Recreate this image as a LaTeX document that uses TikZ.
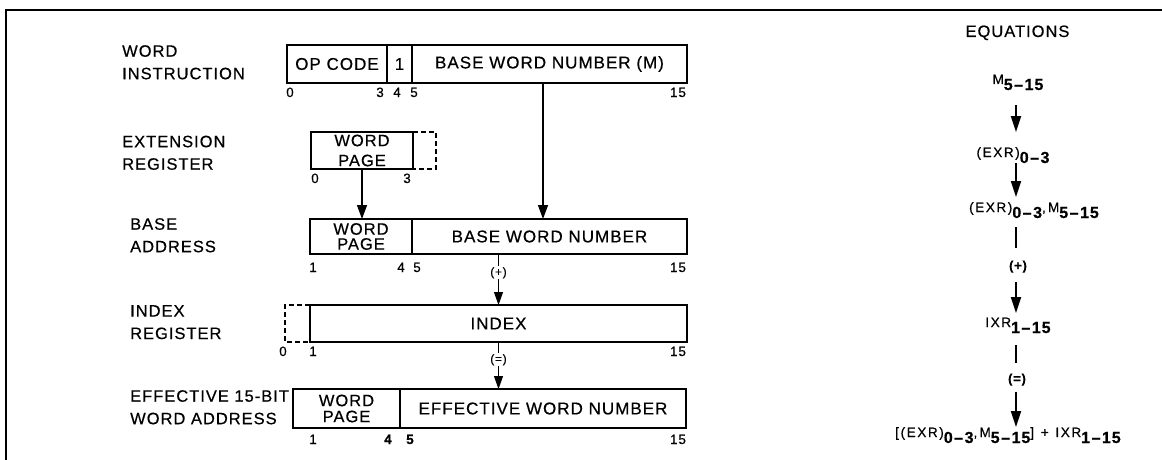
\documentclass[tikz,border=0pt]{standalone}
\usepackage{fontspec}
\setmainfont{Liberation Sans}[LetterSpace=6,FakeBold=0.5]
\newfontfamily\opfont{Liberation Sans}[LetterSpace=12,FakeBold=0.5]
\usetikzlibrary{arrows.meta}

\newcommand\lblfont{\fontsize{16.5}{22.5}\selectfont}
\newcommand\boxfont{\fontsize{17}{18}\selectfont}
\newcommand\bitfont{\fontsize{13.5}{14}\selectfont}
% raised operand and bold bit range of the equations
\newcommand\eqop[1]{\raisebox{6pt}{\opfont\fontsize{13.5}{13.5}\selectfont #1}}
\newcommand\eqsub[1]{{\fontsize{16}{16}\selectfont\bfseries #1}}
\newcommand\rng[2]{\eqsub{#1\kern1.5pt–\kern1.5pt#2}}

\begin{document}
\begin{tikzpicture}[x=1pt,y=-1pt,
  field/.style={draw, line width=1.2pt, inner sep=0pt, outer sep=0pt, anchor=north west, align=center, font=\boxfont},
  ghost/.style={inner sep=0pt, outer sep=0pt, anchor=north west},
  pagefont/.style={font={\fontsize{16.5}{#1}\selectfont}},
  lbl/.style={inner sep=0pt, anchor=north west, align=left, font=\lblfont},
  bit/.style={inner sep=0pt, anchor=base, font=\bitfont},
  darr/.style={line width=1.3pt, -{Triangle[width=10pt,length=14pt]}},
  dlink/.style={line width=0.9pt, -{Triangle[width=9pt,length=13pt]}},
  opn/.style={font={\fontsize{12}{12}\selectfont}, fill=white, inner sep=1pt},
  dashbox/.style={line width=1.2pt, dash pattern=on 5pt off 3pt},
  eqn/.style={inner sep=0pt, outer sep=0pt, anchor=base, text height=13pt, text depth=0pt},
  eqsym/.style={inner sep=0pt, outer sep=0pt, anchor=base, text height=10pt, text depth=3pt, font={\fontsize{13}{13}\selectfont\bfseries}},
  earr/.style={line width=2pt, -{Triangle[width=10pt,length=16pt]}},
  eline/.style={line width=2pt},
]
\useasboundingbox (0,0) rectangle (1162,460);

% frame
\draw[line width=2.4pt] (6,460) -- (6,10) -- (1162,10);

% row labels
\node[lbl] (lwi) at (122,45) {WORD\\INSTRUCTION};
\node[lbl] (lex) at (122,135.5) {EXTENSION\\REGISTER};
\node[lbl] (lba) at (130,218) {BASE\\ADDRESS};
\node[lbl] (lix) at (130,305) {INDEX\\REGISTER};
\node[lbl] (lef) at (130,390) {EFFECTIVE 15-BIT\\WORD ADDRESS};

% word instruction
\node[field, minimum width=100pt, minimum height=38pt] (wiop) at (287,45) {OP CODE};
\node[field, minimum width=25pt, minimum height=38pt] (wione) at (387,45) {1};
\node[field, minimum width=275pt, minimum height=38pt] (wibwn) at (412,45) {BASE WORD NUMBER (M)};
\node[bit] at (290,97) {0};
\node[bit] at (380,97) {3};
\node[bit] at (397,97) {4};
\node[bit] at (414,97) {5};
\node[bit] at (678,97) {15};

% extension register
\node[field, pagefont=20, minimum width=102pt, minimum height=37pt] (expage) at (311,132) {WORD\\PAGE};
\node[ghost, minimum width=23pt, minimum height=37pt] (exdash) at (413,132) {};
\draw[dashbox] (exdash.north west) -- (exdash.north east) -- (exdash.south east) -- (exdash.south west);
\node[bit] at (315,183) {0};
\node[bit] at (407,183) {3};

% base address
\node[field, pagefont=15, minimum width=102pt, minimum height=35pt] (bapage) at (310,219) {WORD\\PAGE};
\node[field, minimum width=275pt, minimum height=35pt] (babwn) at (412,219) {BASE WORD NUMBER};
\node[bit] at (313,272) {1};
\node[bit] at (401,272) {4};
\node[bit] at (417,272) {5};
\node[bit] at (678,272) {15};

% index register
\node[ghost, minimum width=25pt, minimum height=37pt] (ixdash) at (285,305) {};
\draw[dashbox] (ixdash.north east) -- (ixdash.north west) -- (ixdash.south west) -- (ixdash.south east);
\node[field, minimum width=377pt, minimum height=37pt] (ixidx) at (310,305) {INDEX};
\node[bit] at (283,356) {0};
\node[bit] at (313,356) {1};
\node[bit] at (678,356) {15};

% effective word address
\node[field, pagefont=16, minimum width=107pt, minimum height=39pt] (efpage) at (293,389) {WORD\\PAGE};
\node[field, minimum width=286pt, minimum height=39pt] (efewn) at (400,389) {EFFECTIVE WORD NUMBER};
\node[bit] at (313,444) {1};
\node[bit, font=\bitfont\bfseries] at (388,444) {4};
\node[bit, font=\bitfont\bfseries] at (410,444) {5};
\node[bit] at (678,444) {15};

% data paths
\draw[darr] (wibwn.south -| 543,0) -- (babwn.north -| 543,0);
\draw[darr] (expage.south) -- (expage.south |- bapage.north);
\draw[dlink] (ixidx.north |- babwn.south) -- node[opn, pos=0.37] {(+)} (ixidx.north);
\draw[dlink] (ixidx.south) -- node[opn, pos=0.38] {(=)} (ixidx.south |- efewn.north);

% equations
\node[font={\fontsize{16.5}{16.5}\selectfont}, anchor=base, inner sep=0pt] (eqt) at (1017.5,37) {EQUATIONS};
\node[eqn] (m) at (1018,90) {\eqop{M}\rng{5}{15}};
\node[eqn] (e1) at (1013,163) {\eqop{(EXR)}\rng{0}{3}};
\node[eqn] (e2) at (1034,218) {\eqop{(EXR)}\rng{0}{3}\eqop{,\,M}\rng{5}{15}};
\node[eqsym] (plus) at (1018,270) {(+)};
\node[eqn] (ixr) at (1018,333) {\eqop{IXR}\rng{1}{15}};
\node[eqsym] (eqs) at (1017,383) {(=)};
\node[eqn] (fin) at (1008,443) {\eqop{[(EXR)}\rng{0}{3}\eqop{,\,M}\rng{5}{15}\eqop{]\enspace+\enspace IXR}\rng{1}{15}};

\draw[earr, shorten <=15pt, shorten >=18pt] (m.south -| 1016,0) -- (e1.north -| 1016,0);
\draw[earr, shorten >=8pt] (e1.south -| 1016,0) -- (e2.north -| 1016,0);
\draw[eline, shorten <=9pt, shorten >=12pt] (e2.south -| 1016,0) -- (plus.north -| 1016,0);
\draw[earr, shorten <=9pt, shorten >=7pt] (plus.south -| 1016,0) -- (ixr.north -| 1016,0);
\draw[eline, shorten <=12pt, shorten >=10pt] (ixr.south -| 1016,0) -- (eqs.north -| 1016,0);
\draw[earr, shorten <=6pt, shorten >=3pt] (eqs.south -| 1016,0) -- (fin.north -| 1016,0);
\end{tikzpicture}
\end{document}
